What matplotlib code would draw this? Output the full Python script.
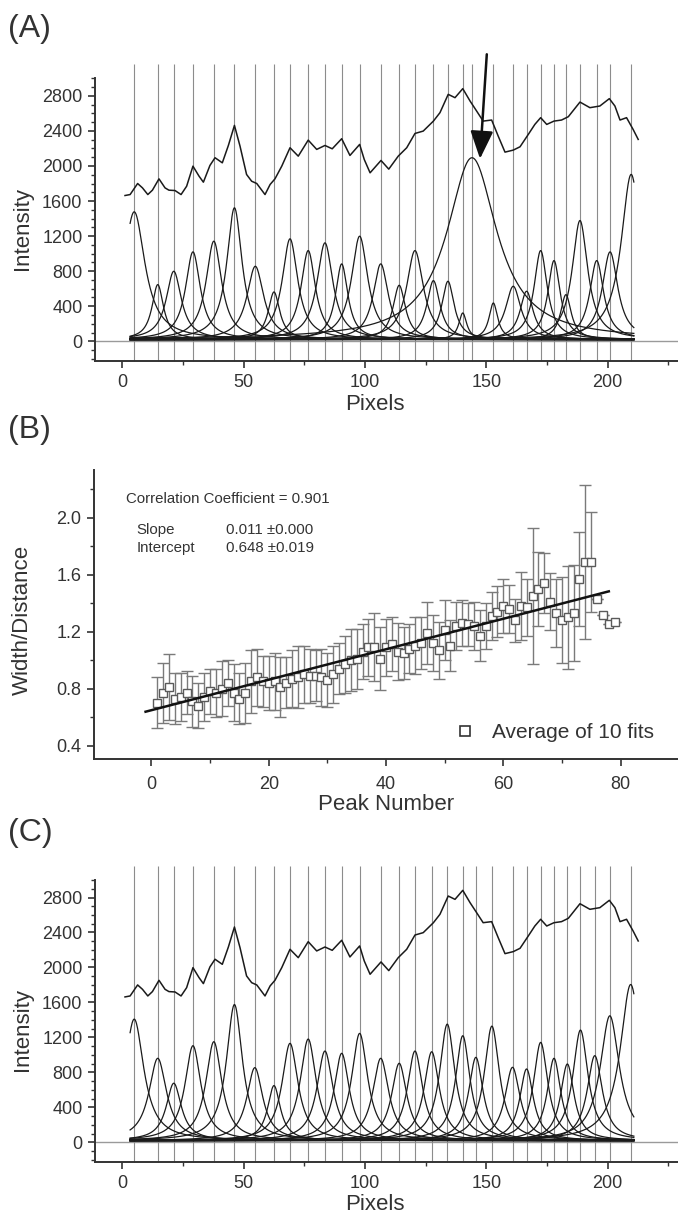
import numpy as np
import matplotlib.pyplot as plt
from matplotlib.lines import Line2D
from matplotlib.ticker import MultipleLocator

plt.rcParams['font.family'] = ['Liberation Sans', 'DejaVu Sans']

###############################数据###############################
# 强度剖面 (A 与 C 相同)
profile_x = [1.1, 3.2, 6.3, 8.3, 10.5, 12.4, 15.1, 17.6, 19.2, 21.7, 24.2, 26.5,
             29.1, 31.6, 33.4, 36.1, 38.2, 41.2, 43.7, 46.2, 48.5, 51.2, 53.3,
             55.4, 58.8, 60.9, 62.9, 65.7, 69.1, 72.5, 76.6, 80.1, 83.5, 86.5,
             90.4, 93.8, 97.8, 99.7, 102.1, 106.6, 109.8, 113.7, 117.2, 120.6,
             124.0, 128.2, 130.9, 134.3, 137.1, 140.3, 143.3, 146.0, 148.7,
             152.2, 154.9, 157.7, 161.1, 163.9, 167.3, 170.0, 172.4, 174.9,
             177.9, 181.0, 183.8, 188.6, 192.7, 196.8, 200.7, 203.0, 205.1,
             207.8, 210.5, 212.6]
profile_y = [1663, 1674, 1800, 1750, 1674, 1724, 1853, 1750, 1724, 1720, 1674, 1769,
             1998, 1884, 1815, 2006, 2094, 2036, 2234, 2463, 2226, 1903, 1826,
             1800, 1674, 1789, 1853, 1998, 2208, 2112, 2295, 2189, 2234, 2196,
             2311, 2120, 2246, 2074, 1922, 2063, 1964, 2112, 2208, 2371,
             2398, 2512, 2608, 2817, 2779, 2882, 2741, 2627, 2512,
             2524, 2341, 2158, 2181, 2219, 2360, 2474, 2551, 2474,
             2512, 2524, 2562, 2729, 2665, 2684, 2768, 2684, 2524,
             2551, 2417, 2303]

# (A) 各洛伦兹峰: 位置, 峰高, 半高半宽
peak_pos_a = [4.9, 14.6, 21.2, 29.1, 37.7, 46.2, 54.8, 62.5, 69.1, 76.6,
              83.5, 90.4, 97.8, 106.5, 114.1, 120.6, 128.2, 134.2, 140.3, 144.1,
              152.9, 161.1, 166.6, 172.4, 177.9, 182.8, 188.6, 195.5, 201.0, 209.7]
peak_amp_a = [1457, 627, 779, 1000, 1122, 1503, 836, 543, 1149, 1015,
              1103, 863, 1179, 863, 619, 1015, 672, 665, 303, 2074,
              417, 608, 551, 1015, 901, 512, 1358, 901, 1000, 1884]
peak_wid_a = [5.4, 2.9, 3.8, 3.7, 3.9, 3.8, 4.2, 2.9, 3.9, 3.6,
              4.0, 3.1, 4.1, 3.8, 3.1, 4.2, 3.3, 3.1, 2.0, 12.5,
              2.2, 3.8, 3.3, 3.3, 3.1, 2.7, 3.9, 3.5, 3.9, 5.0]

# (C) 各洛伦兹峰
peak_pos_c = [4.9, 14.6, 21.2, 29.1, 37.7, 46.2, 54.6, 62.5, 69.1, 76.6,
              83.5, 90.4, 97.8, 106.5, 114.1, 120.6, 127.5, 133.9, 140.3, 145.7,
              152.3, 160.8, 166.6, 172.4, 177.9, 183.4, 188.8, 194.7, 200.9, 209.5]
peak_amp_c = [1389, 941, 656, 1085, 1131, 1556, 834, 629, 1112, 1161,
              1024, 998, 1226, 941, 884, 1024, 1016, 1332, 1199, 952,
              1309, 838, 819, 1123, 941, 876, 1264, 971, 1427, 1785]
peak_wid_c = [4.8, 4.4, 3.8, 4.0, 4.0, 4.0, 4.0, 3.2, 4.0, 4.0,
              4.0, 3.8, 4.0, 4.0, 3.8, 3.8, 3.8, 3.8, 3.6, 3.6,
              3.8, 3.8, 3.4, 3.6, 3.4, 3.4, 3.8, 3.8, 4.8, 5.2]
peak_base = 20

# (B) 宽度/间距 与 峰编号
peak_number = list(range(1, 80))
width_ratio = [0.70, 0.77, 0.81, 0.73, 0.74, 0.77, 0.71, 0.68, 0.74, 0.78,
               0.77, 0.80, 0.84, 0.77, 0.73, 0.77, 0.85, 0.88, 0.85, 0.84,
               0.85, 0.81, 0.84, 0.87, 0.88, 0.90, 0.89, 0.89, 0.88, 0.86,
               0.90, 0.94, 0.97, 1.00, 1.01, 1.06, 1.09, 1.09, 1.01, 1.09,
               1.11, 1.06, 1.05, 1.08, 1.10, 1.12, 1.19, 1.12, 1.07, 1.21,
               1.10, 1.24, 1.26, 1.25, 1.24, 1.17, 1.24, 1.31, 1.34, 1.38,
               1.36, 1.28, 1.38, 1.37, 1.45, 1.50, 1.54, 1.41, 1.33, 1.28,
               1.30, 1.33, 1.57, 1.69, 1.69, 1.43, 1.32, 1.25, 1.27]
width_err = [0.18, 0.21, 0.23, 0.18, 0.17, 0.15, 0.18, 0.16, 0.17, 0.16,
             0.17, 0.19, 0.16, 0.20, 0.18, 0.21, 0.22, 0.20, 0.18, 0.19,
             0.20, 0.21, 0.18, 0.20, 0.22, 0.20, 0.19, 0.18, 0.20, 0.19,
             0.20, 0.18, 0.20, 0.22, 0.21, 0.19, 0.20, 0.24, 0.22, 0.20,
             0.19, 0.20, 0.18, 0.17, 0.20, 0.18, 0.22, 0.20, 0.20, 0.21,
             0.18, 0.17, 0.16, 0.15, 0.17, 0.18, 0.16, 0.17, 0.18, 0.19,
             0.17, 0.15, 0.24, 0.20, 0.48, 0.26, 0.21, 0.20, 0.24, 0.30,
             0.36, 0.34, 0.33, 0.54, 0.35, 0.0, 0.0, 0.0, 0.0]
fit_intercept = 0.648
fit_slope = 0.0107
fit_range = [-1, 78]


###############################函数###############################
def style_axis(ax):
    for s in ['top', 'right']:
        ax.spines[s].set_visible(False)
    for s in ['left', 'bottom']:
        ax.spines[s].set_linewidth(1.4)
        ax.spines[s].set_color('#333333')
    ax.tick_params(direction='out', length=5, width=1.2, labelsize=13,
                   color='#333333', labelcolor='#333333', pad=4)
    ax.tick_params(which='minor', direction='out', length=3, width=1.0,
                   color='#333333')


def draw_peaks(ax, pos, amp, wid):
    xs = np.linspace(3.2, 210.8, 1500)
    ax.axhline(0, color='#9a9a9a', lw=1.0, zorder=1)
    ax.vlines(pos, -225, 3160, colors='#8c8c8c', lw=0.8, zorder=1, clip_on=False)
    for p, a, w in zip(pos, amp, wid):
        ax.plot(xs, a / (1 + ((xs - p) / w) ** 2) + peak_base,
                color='#1a1a1a', lw=0.9, zorder=2)
    ax.plot(profile_x, profile_y, color='#1a1a1a', lw=1.1, zorder=3)
    ax.set_xlim(-11.3, 229)
    ax.set_ylim(-225, 3000)
    ax.xaxis.set_major_locator(MultipleLocator(50))
    ax.xaxis.set_minor_locator(MultipleLocator(25))
    ax.set_yticks(np.arange(0, 2801, 400))
    ax.yaxis.set_minor_locator(MultipleLocator(100))
    ax.set_ylabel('Intensity', fontsize=16, color='#333333')
    ax.set_xlabel('Pixels', fontsize=16, color='#333333')
    ax.yaxis.set_label_coords(-0.106, 0.47)
    ax.xaxis.set_label_coords(0.48, -0.115)
    style_axis(ax)


###############################绘图###############################
fig = plt.figure(figsize=(6.78, 12.16), dpi=100)
axA = fig.add_axes([0.140, 0.7031, 0.860, 0.2325])
axB = fig.add_axes([0.1386, 0.3758, 0.8614, 0.2377])
axC = fig.add_axes([0.140, 0.0444, 0.860, 0.2319])

# (A)
draw_peaks(axA, peak_pos_a, peak_amp_a, peak_wid_a)
axA.annotate('', xy=(147.4, 2082), xytext=(150.2, 3274),
             arrowprops=dict(arrowstyle='-|>,head_length=0.85,head_width=0.35',
                             mutation_scale=20, color='#111111', lw=1.8,
                             shrinkA=0, shrinkB=0),
             annotation_clip=False)

# (B)
axB.errorbar(peak_number, width_ratio, yerr=width_err, fmt='none',
             ecolor='#7a7a7a', elinewidth=1.0, capsize=4, capthick=1.0, zorder=2)
axB.plot(peak_number, width_ratio, 's', ms=5.5, mfc='white', mec='#5a5a5a',
         mew=1.0, zorder=3)
fit_x = np.array(fit_range)
axB.plot(fit_x, fit_intercept + fit_slope * fit_x, color='#111111', lw=1.8, zorder=4)
axB.set_xlim(-9.8, 89.8)
axB.set_ylim(0.305, 2.335)
axB.xaxis.set_major_locator(MultipleLocator(20))
axB.xaxis.set_minor_locator(MultipleLocator(10))
axB.set_yticks([0.4, 0.8, 1.2, 1.6, 2.0])
axB.yaxis.set_minor_locator(MultipleLocator(0.2))
axB.yaxis.set_major_formatter(plt.FormatStrFormatter('%.1f'))
axB.set_ylabel('Width/Distance', fontsize=16, color='#333333')
axB.set_xlabel('Peak Number', fontsize=16, color='#333333')
axB.yaxis.set_label_coords(-0.104, 0.48)
axB.xaxis.set_label_coords(0.50, -0.122)
style_axis(axB)
axB.tick_params(axis='x', pad=7)
axB.text(-4.3, 2.13, 'Correlation Coefficient = 0.901', fontsize=10.8,
         va='center', color='#333333')
axB.text(-2.5, 1.91, 'Slope', fontsize=10.8, va='center', color='#333333')
axB.text(12.8, 1.91, '0.011 \u00b10.000', fontsize=10.8, va='center', color='#333333')
axB.text(-2.5, 1.79, 'Intercept', fontsize=10.8, va='center', color='#333333')
axB.text(12.8, 1.79, '0.648 \u00b10.019', fontsize=10.8, va='center', color='#333333')
proxy = Line2D([], [], ls='none', marker='s', ms=7, mfc='white', mec='#333333', mew=1.2)
axB.legend([proxy], ['Average of 10 fits'], loc='center left',
           bbox_to_anchor=(0.585, 0.091), frameon=False, fontsize=15,
           handletextpad=0.8, handlelength=1.0, labelcolor='#333333')

# (C)
draw_peaks(axC, peak_pos_c, peak_amp_c, peak_wid_c)

# 面板标签
fig.text(8 / 678, 1 - 29 / 1216, '(A)', fontsize=23, va='center', color='#333333')
fig.text(8 / 678, 1 - 430 / 1216, '(B)', fontsize=23, va='center', color='#333333')
fig.text(8 / 678, 1 - 833 / 1216, '(C)', fontsize=23, va='center', color='#333333')

fig.savefig('out.png', dpi=100)
